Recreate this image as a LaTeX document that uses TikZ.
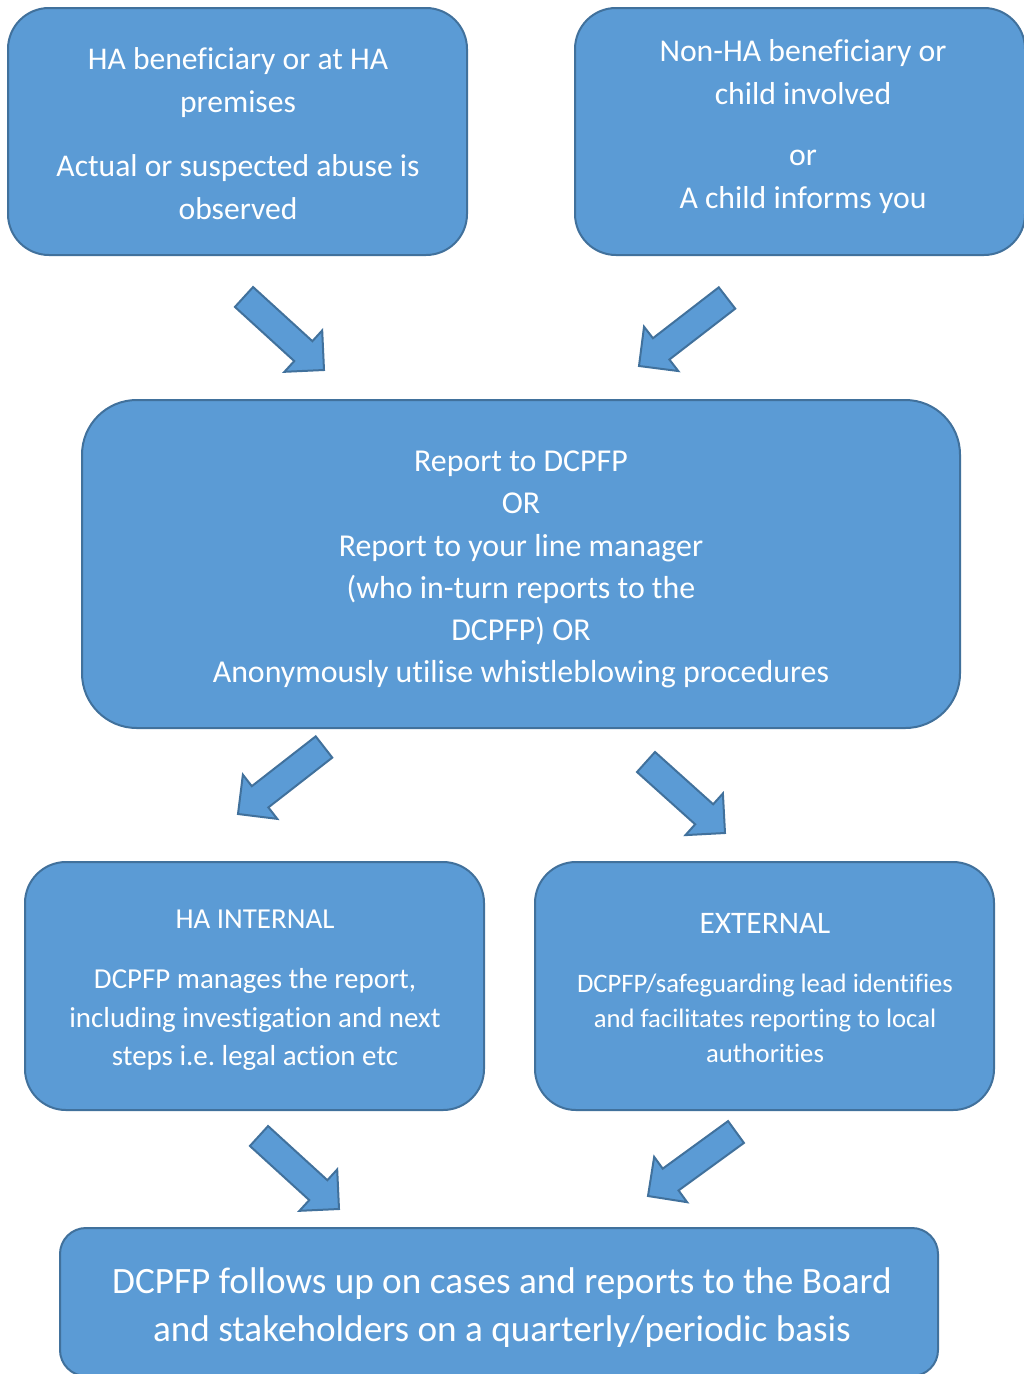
\documentclass[tikz,border=0pt]{standalone}
\usepackage{fontspec}
\setmainfont{Carlito}[Ligatures=NoCommon]
\usetikzlibrary{calc}
\frenchspacing
\definecolor{boxfill}{HTML}{5B9BD5}
\definecolor{boxline}{HTML}{41719C}
\tikzset{
  box/.style={draw=boxline, fill=boxfill, line width=1.5pt, inner sep=0pt, rectangle},
  txt/.style={text=white, align=center, inner sep=0pt},
  barrow/.style={draw=boxline, fill=boxfill, line width=1.5pt, line join=miter},
}
\newcommand\blockarr[2]{% #1 tail, #2 tip
  \coordinate (#2h) at ($(#2)!21pt!(#1)$);
  \draw[barrow] (#2) -- ($(#2)!29.7pt!45:(#1)$) -- ($(#2h)!10.1pt!90:(#1)$)
    -- ($(#1)!10.1pt!-90:(#2)$) -- ($(#1)!10.1pt!90:(#2)$)
    -- ($(#2h)!10.1pt!-90:(#1)$) -- ($(#2)!29.7pt!-45:(#1)$) -- cycle;}
\begin{document}
\begin{tikzpicture}[x=0.75pt,y=-0.75pt]
\useasboundingbox (0,0) rectangle (1024,1374);
\clip (0,0) rectangle (1024,1374);
\fill[white] (0,0) rectangle (1024,1374);
% boxes
\node[box, rounded corners=30.75pt, minimum width=344.25pt, minimum height=185.25pt] (b1) at (237.5,131.5) {};
\node[box, rounded corners=30.75pt, minimum width=337.5pt, minimum height=185.25pt] (b2) at (800,131.5) {};
\node[box, rounded corners=41pt, minimum width=658.5pt, minimum height=246pt] (b3) at (521,564) {};
\node[box, rounded corners=30.75pt, minimum width=344.25pt, minimum height=186pt] (b4) at (254.5,986) {};
\node[box, rounded corners=30.75pt, minimum width=344.25pt, minimum height=186pt] (b5) at (764.5,986) {};
\node[box, rounded corners=19.5pt, minimum width=658.5pt, minimum height=111pt] (b6) at (499,1302) {};
% texts
\node[txt, font=\fontsize{23.7pt}{32.25pt}\selectfont] (t1) at (238,133.5) {HA beneficiary or at HA\\premises\\[16pt]Actual or suspected abuse is\\observed};
\node[txt, font=\fontsize{23.8pt}{32.25pt}\selectfont] (t2) at (803,126.5) {Non-HA beneficiary or\\child involved\\[13pt]or\\A child informs you};
\node[txt, font=\fontsize{23.9pt}{31.65pt}\selectfont] (t3) at (521,569.5) {Report to DCPFP\\OR\\Report to your line manager\\(who in-turn reports to the\\DCPFP) OR\\Anonymously utilise whistleblowing procedures};
\node[txt, font=\fontsize{21.7pt}{28.9pt}\selectfont] (t4) at (255,990) {HA INTERNAL\\[16.5pt]DCPFP manages the report,\\including investigation and next\\steps i.e. legal action etc};
\node[txt, font=\fontsize{20pt}{26.25pt}\selectfont] (t5) at (765,988.5) {{\fontsize{23.5pt}{26.25pt}\selectfont EXTERNAL}\\[18pt]DCPFP/safeguarding lead identifies\\and facilitates reporting to local\\authorities};
\node[txt, font=\fontsize{27.9pt}{36pt}\selectfont] (t6) at (502,1307.5) {DCPFP follows up on cases and reports to the Board\\and stakeholders on a quarterly/periodic basis};
% arrow anchor points
\coordinate (a1tail) at (244,297);  \coordinate (a1tip) at (324,370);
\coordinate (a2tail) at (727,298);  \coordinate (a2tip) at (639,366);
\coordinate (a3tail) at (324,747);  \coordinate (a3tip) at (238,814);
\coordinate (a4tail) at (646,762);  \coordinate (a4tip) at (725,833);
\coordinate (a5tail) at (259,1136); \coordinate (a5tip) at (339,1209);
\coordinate (a6tail) at (736,1132); \coordinate (a6tip) at (648,1196);
\blockarr{a1tail}{a1tip}
\blockarr{a2tail}{a2tip}
\blockarr{a3tail}{a3tip}
\blockarr{a4tail}{a4tip}
\blockarr{a5tail}{a5tip}
\blockarr{a6tail}{a6tip}
\end{tikzpicture}
\end{document}
